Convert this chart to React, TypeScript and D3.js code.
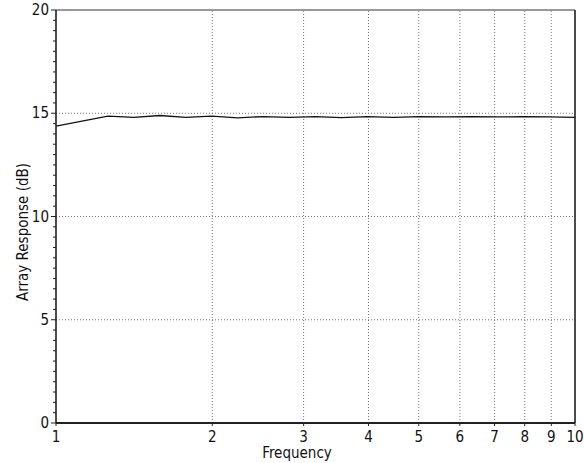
import { useEffect, useRef } from "react";
import * as d3 from "d3";

// frequency points (log spaced, 20 per decade step of 0.05)
const freqs = [
  1, 1.122, 1.259, 1.413, 1.585, 1.778, 1.995, 2.239, 2.512, 2.818, 3.162,
  3.548, 3.981, 4.467, 5.012, 5.623, 6.31, 7.079, 7.943, 8.913, 10,
];
const response = [
  14.38, 14.62, 14.86, 14.8, 14.89, 14.8, 14.86, 14.78, 14.84, 14.8, 14.84,
  14.79, 14.84, 14.8, 14.84, 14.82, 14.83, 14.82, 14.83, 14.82, 14.8,
];
const xTicks = [1, 2, 3, 4, 5, 6, 7, 8, 9, 10];
const yTicks = [0, 5, 10, 15, 20];

export default function App() {
  const ref = useRef<SVGSVGElement>(null);

  useEffect(() => {
    const width = 584;
    const height = 463;
    const margin = { top: 10, right: 9, bottom: 40, left: 56 };
    const font = "'Liberation Sans Narrow', 'DejaVu Sans Condensed', sans-serif";

    const svg = d3.select(ref.current);
    svg.selectAll("*").remove();

    const x = d3
      .scaleLog()
      .domain([1, 10])
      .range([margin.left, width - margin.right]);
    const y = d3
      .scaleLinear()
      .domain([0, 20])
      .range([height - margin.bottom, margin.top]);

    const [x0, x1] = x.range();
    const [y0, y1] = y.range();

    // grid
    svg
      .append("g")
      .selectAll("line")
      .data(xTicks.slice(1, -1))
      .enter()
      .append("line")
      .attr("x1", (d) => x(d))
      .attr("x2", (d) => x(d))
      .attr("y1", y0)
      .attr("y2", y1)
      .attr("stroke", "#777")
      .attr("stroke-dasharray", "1,2");
    svg
      .append("g")
      .selectAll("line")
      .data(yTicks.slice(1, -1))
      .enter()
      .append("line")
      .attr("x1", x0)
      .attr("x2", x1)
      .attr("y1", (d) => y(d))
      .attr("y2", (d) => y(d))
      .attr("stroke", "#777")
      .attr("stroke-dasharray", "1,2");

    // frame
    svg
      .append("line")
      .attr("x1", x0)
      .attr("x2", x1)
      .attr("y1", y1)
      .attr("y2", y1)
      .attr("stroke", "#777")
      .attr("stroke-width", 1.5);
    svg
      .append("line")
      .attr("x1", x1)
      .attr("x2", x1)
      .attr("y1", y1)
      .attr("y2", y0)
      .attr("stroke", "#111")
      .attr("stroke-width", 1.5);
    svg
      .append("line")
      .attr("x1", x0)
      .attr("x2", x1)
      .attr("y1", y0)
      .attr("y2", y0)
      .attr("stroke", "#222")
      .attr("stroke-width", 1.8);
    svg
      .append("line")
      .attr("x1", x0)
      .attr("x2", x0)
      .attr("y1", y1)
      .attr("y2", y0)
      .attr("stroke", "#111")
      .attr("stroke-width", 1.5);

    // y minor + major ticks
    const minor = d3.range(0, 20.01, 0.5);
    svg
      .append("g")
      .selectAll("line")
      .data(minor)
      .enter()
      .append("line")
      .attr("x1", (d) => (d % 5 === 0 ? x0 - 5 : x0 - 3))
      .attr("x2", x0)
      .attr("y1", (d) => y(d))
      .attr("y2", (d) => y(d))
      .attr("stroke", "#222");

    svg
      .append("g")
      .selectAll("text")
      .data(yTicks)
      .enter()
      .append("text")
      .attr("x", x0 - 7)
      .attr("y", (d) => y(d) + 5)
      .attr("text-anchor", "end")
      .attr("font-family", font)
      .attr("font-size", 15)
      .attr("fill", "#111")
      .text((d) => d);

    // x ticks
    svg
      .append("g")
      .selectAll("line")
      .data(xTicks)
      .enter()
      .append("line")
      .attr("x1", (d) => x(d))
      .attr("x2", (d) => x(d))
      .attr("y1", y0)
      .attr("y2", y0 + 3)
      .attr("stroke", "#222");

    svg
      .append("g")
      .selectAll("text")
      .data(xTicks)
      .enter()
      .append("text")
      .attr("x", (d) => x(d))
      .attr("y", y0 + 19)
      .attr("text-anchor", "middle")
      .attr("font-family", font)
      .attr("font-size", 15)
      .attr("fill", "#111")
      .text((d) => d);

    // axis titles
    svg
      .append("text")
      .attr("x", 297)
      .attr("y", y0 + 35)
      .attr("font-family", font)
      .attr("font-size", 15)
      .attr("fill", "#111")
      .attr("text-anchor", "middle")
      .text("Frequency");
    svg
      .append("text")
      .attr("transform", `translate(28,232) rotate(-90)`)
      .attr("text-anchor", "middle")
      .attr("font-family", font)
      .attr("font-size", 15)
      .attr("fill", "#111")
      .text("Array Response (dB)");

    // response curve
    const line = d3
      .line<number>()
      .x((_, i) => x(freqs[i]))
      .y((d) => y(d));
    svg
      .append("path")
      .datum(response)
      .attr("d", line)
      .attr("fill", "none")
      .attr("stroke", "#111")
      .attr("stroke-width", 1.3);
  }, []);

  return (
    <svg
      ref={ref}
      width={584}
      height={463}
      style={{ position: "absolute", left: 0, top: 0, background: "#fff" }}
    />
  );
}
